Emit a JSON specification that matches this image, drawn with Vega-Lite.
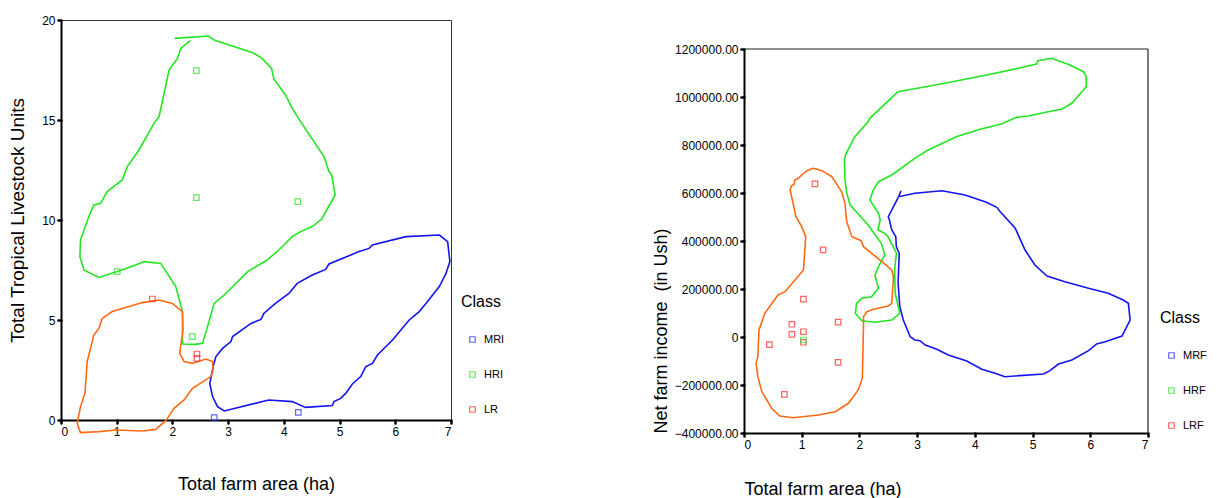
{
  "$schema": "https://vega.github.io/schema/vega-lite/v6.json",
  "background": "white",
  "padding": {"left": 8, "top": 13, "right": 0, "bottom": 0},
  "spacing": 146,
  "config": {
    "font": "Liberation Sans",
    "view": {"stroke": "#333333", "strokeWidth": 1},
    "axis": {
      "grid": false,
      "domainColor": "#000000",
      "domainWidth": 2,
      "tickColor": "#000000",
      "tickSize": 3,
      "tickWidth": 2.5,
      "tickCap": "round",
      "labelFont": "Liberation Sans",
      "labelFontSize": 12,
      "labelColor": "#000000",
      "labelPadding": 3,
      "titleFont": "Liberation Sans",
      "titleFontWeight": "normal",
      "titleColor": "#000000",
      "titleFontSize": 18
    },
    "legend": {
      "titleFont": "Liberation Sans",
      "titleFontWeight": "normal",
      "titleFontSize": 16,
      "titleColor": "#000000",
      "labelFont": "Liberation Sans",
      "labelFontSize": 11,
      "labelColor": "#000000",
      "symbolType": "square",
      "symbolSize": 30,
      "symbolStrokeWidth": 1.2,
      "symbolOffset": 6,
      "rowPadding": 23,
      "titlePadding": 24,
      "labelOffset": 6
    }
  },
  "datasets": {
    "leftLines": [
      {"g": "HRI", "i": 1, "x": 2.04, "y": 19.08},
      {"g": "HRI", "i": 2, "x": 2.64, "y": 19.2},
      {"g": "HRI", "i": 3, "x": 2.77, "y": 18.97},
      {"g": "HRI", "i": 4, "x": 3.43, "y": 18.38},
      {"g": "HRI", "i": 5, "x": 3.61, "y": 18.08},
      {"g": "HRI", "i": 6, "x": 3.78, "y": 17.58},
      {"g": "HRI", "i": 7, "x": 3.82, "y": 17.05},
      {"g": "HRI", "i": 8, "x": 4.03, "y": 16.25},
      {"g": "HRI", "i": 9, "x": 4.15, "y": 15.58},
      {"g": "HRI", "i": 10, "x": 4.3, "y": 14.92},
      {"g": "HRI", "i": 11, "x": 4.72, "y": 13.17},
      {"g": "HRI", "i": 12, "x": 4.81, "y": 12.42},
      {"g": "HRI", "i": 13, "x": 4.86, "y": 12.25},
      {"g": "HRI", "i": 14, "x": 4.92, "y": 11.25},
      {"g": "HRI", "i": 15, "x": 4.68, "y": 10.05},
      {"g": "HRI", "i": 16, "x": 4.51, "y": 9.67},
      {"g": "HRI", "i": 17, "x": 4.3, "y": 9.42},
      {"g": "HRI", "i": 18, "x": 4.15, "y": 9.17},
      {"g": "HRI", "i": 19, "x": 3.91, "y": 8.5},
      {"g": "HRI", "i": 20, "x": 3.7, "y": 8.0},
      {"g": "HRI", "i": 21, "x": 3.35, "y": 7.42},
      {"g": "HRI", "i": 22, "x": 2.93, "y": 6.25},
      {"g": "HRI", "i": 23, "x": 2.75, "y": 5.83},
      {"g": "HRI", "i": 24, "x": 2.63, "y": 4.67},
      {"g": "HRI", "i": 25, "x": 2.54, "y": 3.83},
      {"g": "HRI", "i": 26, "x": 2.42, "y": 3.78},
      {"g": "HRI", "i": 27, "x": 2.18, "y": 3.8},
      {"g": "HRI", "i": 28, "x": 2.18, "y": 5.42},
      {"g": "HRI", "i": 29, "x": 2.06, "y": 6.67},
      {"g": "HRI", "i": 30, "x": 1.79, "y": 7.83},
      {"g": "HRI", "i": 31, "x": 1.49, "y": 7.92},
      {"g": "HRI", "i": 32, "x": 1.34, "y": 7.75},
      {"g": "HRI", "i": 33, "x": 1.01, "y": 7.42},
      {"g": "HRI", "i": 34, "x": 0.68, "y": 7.13},
      {"g": "HRI", "i": 35, "x": 0.41, "y": 7.5},
      {"g": "HRI", "i": 36, "x": 0.34, "y": 8.17},
      {"g": "HRI", "i": 37, "x": 0.35, "y": 9.0},
      {"g": "HRI", "i": 38, "x": 0.5, "y": 10.17},
      {"g": "HRI", "i": 39, "x": 0.59, "y": 10.75},
      {"g": "HRI", "i": 40, "x": 0.71, "y": 10.83},
      {"g": "HRI", "i": 41, "x": 0.83, "y": 11.42},
      {"g": "HRI", "i": 42, "x": 1.1, "y": 12.0},
      {"g": "HRI", "i": 43, "x": 1.19, "y": 12.67},
      {"g": "HRI", "i": 44, "x": 1.4, "y": 13.5},
      {"g": "HRI", "i": 45, "x": 1.67, "y": 14.83},
      {"g": "HRI", "i": 46, "x": 1.76, "y": 15.17},
      {"g": "HRI", "i": 47, "x": 1.94, "y": 17.5},
      {"g": "HRI", "i": 48, "x": 2.09, "y": 18.08},
      {"g": "HRI", "i": 49, "x": 2.15, "y": 18.58},
      {"g": "HRI", "i": 50, "x": 2.32, "y": 18.97},
      {"g": "MRI", "i": 1, "x": 2.73, "y": 2.67},
      {"g": "MRI", "i": 2, "x": 2.78, "y": 3.17},
      {"g": "MRI", "i": 3, "x": 2.9, "y": 3.58},
      {"g": "MRI", "i": 4, "x": 3.05, "y": 3.92},
      {"g": "MRI", "i": 5, "x": 3.08, "y": 4.17},
      {"g": "MRI", "i": 6, "x": 3.41, "y": 4.83},
      {"g": "MRI", "i": 7, "x": 3.59, "y": 5.03},
      {"g": "MRI", "i": 8, "x": 3.64, "y": 5.33},
      {"g": "MRI", "i": 9, "x": 3.85, "y": 5.83},
      {"g": "MRI", "i": 10, "x": 4.09, "y": 6.33},
      {"g": "MRI", "i": 11, "x": 4.24, "y": 6.83},
      {"g": "MRI", "i": 12, "x": 4.51, "y": 7.25},
      {"g": "MRI", "i": 13, "x": 4.75, "y": 7.53},
      {"g": "MRI", "i": 14, "x": 4.81, "y": 7.8},
      {"g": "MRI", "i": 15, "x": 5.35, "y": 8.42},
      {"g": "MRI", "i": 16, "x": 5.53, "y": 8.58},
      {"g": "MRI", "i": 17, "x": 5.59, "y": 8.75},
      {"g": "MRI", "i": 18, "x": 6.19, "y": 9.17},
      {"g": "MRI", "i": 19, "x": 6.79, "y": 9.25},
      {"g": "MRI", "i": 20, "x": 6.94, "y": 8.92},
      {"g": "MRI", "i": 21, "x": 6.98, "y": 7.92},
      {"g": "MRI", "i": 22, "x": 6.91, "y": 7.33},
      {"g": "MRI", "i": 23, "x": 6.79, "y": 6.67},
      {"g": "MRI", "i": 24, "x": 6.55, "y": 5.83},
      {"g": "MRI", "i": 25, "x": 6.43, "y": 5.42},
      {"g": "MRI", "i": 26, "x": 6.25, "y": 5.0},
      {"g": "MRI", "i": 27, "x": 5.95, "y": 4.0},
      {"g": "MRI", "i": 28, "x": 5.68, "y": 3.25},
      {"g": "MRI", "i": 29, "x": 5.59, "y": 2.83},
      {"g": "MRI", "i": 30, "x": 5.47, "y": 2.67},
      {"g": "MRI", "i": 31, "x": 5.38, "y": 2.17},
      {"g": "MRI", "i": 32, "x": 5.23, "y": 1.8},
      {"g": "MRI", "i": 33, "x": 5.11, "y": 1.33},
      {"g": "MRI", "i": 34, "x": 5.02, "y": 1.08},
      {"g": "MRI", "i": 35, "x": 4.9, "y": 0.92},
      {"g": "MRI", "i": 36, "x": 4.87, "y": 0.72},
      {"g": "MRI", "i": 37, "x": 4.39, "y": 0.63},
      {"g": "MRI", "i": 38, "x": 4.15, "y": 0.92},
      {"g": "MRI", "i": 39, "x": 3.73, "y": 1.0},
      {"g": "MRI", "i": 40, "x": 2.93, "y": 0.45},
      {"g": "MRI", "i": 41, "x": 2.81, "y": 0.67},
      {"g": "MRI", "i": 42, "x": 2.72, "y": 1.17},
      {"g": "MRI", "i": 43, "x": 2.67, "y": 1.83},
      {"g": "MRI", "i": 44, "x": 2.72, "y": 2.5},
      {"g": "MRI", "i": 45, "x": 2.73, "y": 2.67},
      {"g": "LR", "i": 1, "x": 1.76, "y": 6.0},
      {"g": "LR", "i": 2, "x": 2.0, "y": 5.83},
      {"g": "LR", "i": 3, "x": 2.18, "y": 5.42},
      {"g": "LR", "i": 4, "x": 2.19, "y": 4.5},
      {"g": "LR", "i": 5, "x": 2.13, "y": 3.33},
      {"g": "LR", "i": 6, "x": 2.21, "y": 2.92},
      {"g": "LR", "i": 7, "x": 2.36, "y": 2.83},
      {"g": "LR", "i": 8, "x": 2.6, "y": 3.05},
      {"g": "LR", "i": 9, "x": 2.72, "y": 2.92},
      {"g": "LR", "i": 10, "x": 2.73, "y": 2.5},
      {"g": "LR", "i": 11, "x": 2.69, "y": 2.17},
      {"g": "LR", "i": 12, "x": 2.36, "y": 1.58},
      {"g": "LR", "i": 13, "x": 2.21, "y": 1.0},
      {"g": "LR", "i": 14, "x": 2.15, "y": 0.87},
      {"g": "LR", "i": 15, "x": 2.03, "y": 0.58},
      {"g": "LR", "i": 16, "x": 1.91, "y": 0.08},
      {"g": "LR", "i": 17, "x": 1.88, "y": -0.03},
      {"g": "LR", "i": 18, "x": 1.7, "y": -0.47},
      {"g": "LR", "i": 19, "x": 1.46, "y": -0.55},
      {"g": "LR", "i": 20, "x": 0.98, "y": -0.5},
      {"g": "LR", "i": 21, "x": 0.68, "y": -0.58},
      {"g": "LR", "i": 22, "x": 0.35, "y": -0.63},
      {"g": "LR", "i": 23, "x": 0.29, "y": -0.17},
      {"g": "LR", "i": 24, "x": 0.35, "y": 0.67},
      {"g": "LR", "i": 25, "x": 0.43, "y": 1.33},
      {"g": "LR", "i": 26, "x": 0.47, "y": 2.92},
      {"g": "LR", "i": 27, "x": 0.59, "y": 4.25},
      {"g": "LR", "i": 28, "x": 0.68, "y": 4.58},
      {"g": "LR", "i": 29, "x": 0.74, "y": 5.08},
      {"g": "LR", "i": 30, "x": 0.92, "y": 5.42},
      {"g": "LR", "i": 31, "x": 1.46, "y": 5.87},
      {"g": "LR", "i": 32, "x": 1.76, "y": 6.0}
    ],
    "leftPts": [
      {"c": "HRI", "x": 2.43, "y": 17.47},
      {"c": "HRI", "x": 2.43, "y": 11.12},
      {"c": "HRI", "x": 4.25, "y": 10.92},
      {"c": "HRI", "x": 1.01, "y": 7.42},
      {"c": "HRI", "x": 2.36, "y": 4.17},
      {"c": "LR", "x": 1.64, "y": 6.05},
      {"c": "LR", "x": 2.44, "y": 3.3},
      {"c": "LR", "x": 2.44, "y": 3.08},
      {"c": "MRI", "x": 2.75, "y": 0.12},
      {"c": "MRI", "x": 4.26, "y": 0.38}
    ],
    "rightLines": [
      {"g": "MRF", "i": 1, "x": 2.72, "v": 609600},
      {"g": "MRF", "i": 2, "x": 2.68, "v": 584600},
      {"g": "MRF", "i": 3, "x": 2.96, "v": 598750},
      {"g": "MRF", "i": 4, "x": 3.43, "v": 609600},
      {"g": "MRF", "i": 5, "x": 3.83, "v": 591700},
      {"g": "MRF", "i": 6, "x": 4.2, "v": 561250},
      {"g": "MRF", "i": 7, "x": 4.38, "v": 540400},
      {"g": "MRF", "i": 8, "x": 4.44, "v": 522100},
      {"g": "MRF", "i": 9, "x": 4.7, "v": 452900},
      {"g": "MRF", "i": 10, "x": 4.87, "v": 362500},
      {"g": "MRF", "i": 11, "x": 5.04, "v": 300000},
      {"g": "MRF", "i": 12, "x": 5.25, "v": 254200},
      {"g": "MRF", "i": 13, "x": 5.56, "v": 230400},
      {"g": "MRF", "i": 14, "x": 5.97, "v": 202900},
      {"g": "MRF", "i": 15, "x": 6.31, "v": 182100},
      {"g": "MRF", "i": 16, "x": 6.57, "v": 154200},
      {"g": "MRF", "i": 17, "x": 6.66, "v": 140400},
      {"g": "MRF", "i": 18, "x": 6.69, "v": 70800},
      {"g": "MRF", "i": 19, "x": 6.55, "v": 4200},
      {"g": "MRF", "i": 20, "x": 6.26, "v": -19600},
      {"g": "MRF", "i": 21, "x": 6.11, "v": -29200},
      {"g": "MRF", "i": 22, "x": 5.97, "v": -57100},
      {"g": "MRF", "i": 23, "x": 5.68, "v": -95800},
      {"g": "MRF", "i": 24, "x": 5.45, "v": -112500},
      {"g": "MRF", "i": 25, "x": 5.3, "v": -140400},
      {"g": "MRF", "i": 26, "x": 5.19, "v": -154200},
      {"g": "MRF", "i": 27, "x": 4.52, "v": -165400},
      {"g": "MRF", "i": 28, "x": 4.35, "v": -151250},
      {"g": "MRF", "i": 29, "x": 4.12, "v": -134600},
      {"g": "MRF", "i": 30, "x": 3.86, "v": -100000},
      {"g": "MRF", "i": 31, "x": 3.54, "v": -75000},
      {"g": "MRF", "i": 32, "x": 3.34, "v": -51250},
      {"g": "MRF", "i": 33, "x": 3.14, "v": -33300},
      {"g": "MRF", "i": 34, "x": 3.05, "v": -15400},
      {"g": "MRF", "i": 35, "x": 2.96, "v": -12500},
      {"g": "MRF", "i": 36, "x": 2.88, "v": 1250},
      {"g": "MRF", "i": 37, "x": 2.76, "v": 70800},
      {"g": "MRF", "i": 38, "x": 2.7, "v": 126250},
      {"g": "MRF", "i": 39, "x": 2.67, "v": 223750},
      {"g": "MRF", "i": 40, "x": 2.69, "v": 348750},
      {"g": "MRF", "i": 41, "x": 2.64, "v": 376250},
      {"g": "MRF", "i": 42, "x": 2.63, "v": 418000},
      {"g": "MRF", "i": 43, "x": 2.56, "v": 445800},
      {"g": "MRF", "i": 44, "x": 2.52, "v": 487500},
      {"g": "MRF", "i": 45, "x": 2.5, "v": 501250},
      {"g": "MRF", "i": 46, "x": 2.59, "v": 542900},
      {"g": "MRF", "i": 47, "x": 2.68, "v": 584600},
      {"g": "LRF", "i": 1, "x": 1.2, "v": 702900},
      {"g": "LRF", "i": 2, "x": 1.35, "v": 693000},
      {"g": "LRF", "i": 3, "x": 1.52, "v": 668000},
      {"g": "LRF", "i": 4, "x": 1.69, "v": 605500},
      {"g": "LRF", "i": 5, "x": 1.75, "v": 557000},
      {"g": "LRF", "i": 6, "x": 1.78, "v": 480400},
      {"g": "LRF", "i": 7, "x": 1.87, "v": 418000},
      {"g": "LRF", "i": 8, "x": 2.03, "v": 401300},
      {"g": "LRF", "i": 9, "x": 2.07, "v": 376300},
      {"g": "LRF", "i": 10, "x": 2.39, "v": 313750},
      {"g": "LRF", "i": 11, "x": 2.56, "v": 279200},
      {"g": "LRF", "i": 12, "x": 2.59, "v": 251300},
      {"g": "LRF", "i": 13, "x": 2.56, "v": 140400},
      {"g": "LRF", "i": 14, "x": 2.5, "v": 129200},
      {"g": "LRF", "i": 15, "x": 2.24, "v": 115400},
      {"g": "LRF", "i": 16, "x": 2.13, "v": 105400},
      {"g": "LRF", "i": 17, "x": 2.07, "v": 84600},
      {"g": "LRF", "i": 18, "x": 2.07, "v": 42900},
      {"g": "LRF", "i": 19, "x": 2.05, "v": -172100},
      {"g": "LRF", "i": 20, "x": 1.98, "v": -220800},
      {"g": "LRF", "i": 21, "x": 1.81, "v": -276250},
      {"g": "LRF", "i": 22, "x": 1.58, "v": -311250},
      {"g": "LRF", "i": 23, "x": 1.29, "v": -325000},
      {"g": "LRF", "i": 24, "x": 0.85, "v": -336250},
      {"g": "LRF", "i": 25, "x": 0.62, "v": -329200},
      {"g": "LRF", "i": 26, "x": 0.48, "v": -297100},
      {"g": "LRF", "i": 27, "x": 0.31, "v": -227900},
      {"g": "LRF", "i": 28, "x": 0.24, "v": -165400},
      {"g": "LRF", "i": 29, "x": 0.21, "v": -109600},
      {"g": "LRF", "i": 30, "x": 0.24, "v": -82100},
      {"g": "LRF", "i": 31, "x": 0.26, "v": 29200},
      {"g": "LRF", "i": 32, "x": 0.36, "v": 98750},
      {"g": "LRF", "i": 33, "x": 0.59, "v": 175000},
      {"g": "LRF", "i": 34, "x": 0.71, "v": 188750},
      {"g": "LRF", "i": 35, "x": 0.91, "v": 244600},
      {"g": "LRF", "i": 36, "x": 1.03, "v": 279200},
      {"g": "LRF", "i": 37, "x": 1.07, "v": 418000},
      {"g": "LRF", "i": 38, "x": 1.0, "v": 459600},
      {"g": "LRF", "i": 39, "x": 0.9, "v": 501250},
      {"g": "LRF", "i": 40, "x": 0.8, "v": 612500},
      {"g": "LRF", "i": 41, "x": 0.82, "v": 629200},
      {"g": "LRF", "i": 42, "x": 0.87, "v": 636250},
      {"g": "LRF", "i": 43, "x": 0.88, "v": 654200},
      {"g": "LRF", "i": 44, "x": 0.94, "v": 661250},
      {"g": "LRF", "i": 45, "x": 1.0, "v": 675000},
      {"g": "LRF", "i": 46, "x": 1.09, "v": 693000},
      {"g": "LRF", "i": 47, "x": 1.2, "v": 702900},
      {"g": "HRF", "i": 1, "x": 2.67, "v": 1022100},
      {"g": "HRF", "i": 2, "x": 2.18, "v": 911250},
      {"g": "HRF", "i": 3, "x": 2.15, "v": 897100},
      {"g": "HRF", "i": 4, "x": 1.92, "v": 834600},
      {"g": "HRF", "i": 5, "x": 1.76, "v": 760000},
      {"g": "HRF", "i": 6, "x": 1.74, "v": 737500},
      {"g": "HRF", "i": 7, "x": 1.75, "v": 654000},
      {"g": "HRF", "i": 8, "x": 1.78, "v": 600000},
      {"g": "HRF", "i": 9, "x": 1.84, "v": 550000},
      {"g": "HRF", "i": 10, "x": 2.15, "v": 466700},
      {"g": "HRF", "i": 11, "x": 2.38, "v": 390400},
      {"g": "HRF", "i": 12, "x": 2.44, "v": 341700},
      {"g": "HRF", "i": 13, "x": 2.33, "v": 292900},
      {"g": "HRF", "i": 14, "x": 2.27, "v": 258300},
      {"g": "HRF", "i": 15, "x": 2.33, "v": 202900},
      {"g": "HRF", "i": 16, "x": 2.21, "v": 167900},
      {"g": "HRF", "i": 17, "x": 2.04, "v": 161250},
      {"g": "HRF", "i": 18, "x": 1.95, "v": 140400},
      {"g": "HRF", "i": 19, "x": 1.93, "v": 98750},
      {"g": "HRF", "i": 20, "x": 2.04, "v": 67900},
      {"g": "HRF", "i": 21, "x": 2.27, "v": 61250},
      {"g": "HRF", "i": 22, "x": 2.56, "v": 70800},
      {"g": "HRF", "i": 23, "x": 2.7, "v": 98750},
      {"g": "HRF", "i": 24, "x": 2.62, "v": 182100},
      {"g": "HRF", "i": 25, "x": 2.61, "v": 279200},
      {"g": "HRF", "i": 26, "x": 2.64, "v": 350000},
      {"g": "HRF", "i": 27, "x": 2.5, "v": 415400},
      {"g": "HRF", "i": 28, "x": 2.44, "v": 432100},
      {"g": "HRF", "i": 29, "x": 2.32, "v": 445800},
      {"g": "HRF", "i": 30, "x": 2.36, "v": 487500},
      {"g": "HRF", "i": 31, "x": 2.33, "v": 515400},
      {"g": "HRF", "i": 32, "x": 2.18, "v": 570800},
      {"g": "HRF", "i": 33, "x": 2.24, "v": 612500},
      {"g": "HRF", "i": 34, "x": 2.33, "v": 647100},
      {"g": "HRF", "i": 35, "x": 2.56, "v": 675000},
      {"g": "HRF", "i": 36, "x": 2.96, "v": 744600},
      {"g": "HRF", "i": 37, "x": 3.19, "v": 779200},
      {"g": "HRF", "i": 38, "x": 3.68, "v": 834600},
      {"g": "HRF", "i": 39, "x": 3.83, "v": 845800},
      {"g": "HRF", "i": 40, "x": 4.09, "v": 865400},
      {"g": "HRF", "i": 41, "x": 4.46, "v": 887500},
      {"g": "HRF", "i": 42, "x": 4.72, "v": 915400},
      {"g": "HRF", "i": 43, "x": 4.93, "v": 920800},
      {"g": "HRF", "i": 44, "x": 5.27, "v": 938750},
      {"g": "HRF", "i": 45, "x": 5.51, "v": 950000},
      {"g": "HRF", "i": 46, "x": 5.68, "v": 973750},
      {"g": "HRF", "i": 47, "x": 5.93, "v": 1042900},
      {"g": "HRF", "i": 48, "x": 5.93, "v": 1084600},
      {"g": "HRF", "i": 49, "x": 5.88, "v": 1105400},
      {"g": "HRF", "i": 50, "x": 5.65, "v": 1133300},
      {"g": "HRF", "i": 51, "x": 5.33, "v": 1161250},
      {"g": "HRF", "i": 52, "x": 5.09, "v": 1151250},
      {"g": "HRF", "i": 53, "x": 5.07, "v": 1137500},
      {"g": "HRF", "i": 54, "x": 4.75, "v": 1119600},
      {"g": "HRF", "i": 55, "x": 4.29, "v": 1095800},
      {"g": "HRF", "i": 56, "x": 3.83, "v": 1073750},
      {"g": "HRF", "i": 57, "x": 3.48, "v": 1057100},
      {"g": "HRF", "i": 58, "x": 3.31, "v": 1050000},
      {"g": "HRF", "i": 59, "x": 2.67, "v": 1022100}
    ],
    "rightPts": [
      {"c": "LRF", "x": 1.23, "v": 638000},
      {"c": "LRF", "x": 1.37, "v": 363000},
      {"c": "LRF", "x": 1.03, "v": 158000},
      {"c": "LRF", "x": 0.83, "v": 53000},
      {"c": "LRF", "x": 0.83, "v": 11000},
      {"c": "LRF", "x": 1.03, "v": 22000},
      {"c": "LRF", "x": 1.03, "v": -22000},
      {"c": "LRF", "x": 1.63, "v": 62000},
      {"c": "LRF", "x": 0.44, "v": -32000},
      {"c": "LRF", "x": 1.63, "v": -106000},
      {"c": "LRF", "x": 0.7, "v": -239000},
      {"c": "HRF", "x": 1.03, "v": -12500}
    ],
    "rightFrame": [
      {"x": 0, "x2": 7, "v": 1200000, "v2": 1200000},
      {"x": 7, "x2": 7, "v": -400000, "v2": 1200000}
    ]
  },
  "hconcat": [
    {
      "width": 390,
      "height": 400,
      "encoding": {
        "x": {"field": "x", "type": "quantitative", "scale": {"domain": [0, 7], "nice": false, "zero": false},
          "axis": {"values": [0, 1, 2, 3, 4, 5, 6, 7], "format": "d", "title": "Total farm area (ha)", "titlePadding": 38}},
        "y": {"field": "y", "type": "quantitative", "scale": {"domain": [0, 20], "nice": false, "zero": false},
          "axis": {"values": [0, 5, 10, 15, 20], "format": "d", "title": "Total Tropical Livestock Units", "titleFontSize": 19, "titlePadding": 14}}
      },
      "layer": [
        {
          "data": {"name": "leftLines"},
          "transform": [{"filter": "datum.g == 'MRI'"}],
          "mark": {"type": "line", "strokeWidth": 1.6, "clip": false, "color": "#1414ee"},
          "encoding": {"order": {"field": "i", "type": "quantitative"}}
        },
        {
          "data": {"name": "leftLines"},
          "transform": [{"filter": "datum.g == 'HRI'"}],
          "mark": {"type": "line", "strokeWidth": 1.6, "clip": false, "color": "#22e622"},
          "encoding": {"order": {"field": "i", "type": "quantitative"}}
        },
        {
          "data": {"name": "leftLines"},
          "transform": [{"filter": "datum.g == 'LR'"}],
          "mark": {"type": "line", "strokeWidth": 1.6, "clip": false, "color": "#ff6a14"},
          "encoding": {"order": {"field": "i", "type": "quantitative"}}
        },
        {
          "data": {"name": "leftPts"},
          "mark": {"type": "point", "shape": "square", "filled": false, "size": 30, "strokeWidth": 1.2, "clip": false},
          "encoding": {
            "color": {"field": "c", "type": "nominal", "scale": {"domain": ["MRI", "HRI", "LR"], "range": ["#2020ff", "#22dd22", "#ff2020"]},
              "legend": {"title": "Class", "orient": "none", "legendX": 400, "legendY": 274}}
          }
        }
      ]
    },
    {
      "width": 404,
      "height": 413,
      "view": {"stroke": null},
      "encoding": {
        "x": {"field": "x", "type": "quantitative", "scale": {"domain": [0, 7], "nice": false, "zero": false},
          "axis": {"values": [0, 1, 2, 3, 4, 5, 6, 7], "format": "d", "title": "Total farm area (ha)", "titleAnchor": "start", "titlePadding": 30}},
        "y": {"field": "v", "type": "quantitative", "scale": {"domain": [-400000, 1200000], "range": [413, 29], "nice": false, "zero": false},
          "axis": {"values": [-400000, -200000, 0, 200000, 400000, 600000, 800000, 1000000, 1200000],
            "labelExpr": "datum.value == 0 ? '0' : format(datum.value, '.2f')",
            "title": "Net farm income \u00a0(in Ush)", "titleAnchor": "start", "titlePadding": 4}}
      },
      "layer": [
        {
          "data": {"name": "rightFrame"},
          "mark": {"type": "rule", "color": "#222222", "strokeWidth": 1.2},
          "encoding": {
            "x2": {"field": "x2"},
            "y2": {"field": "v2"}
          }
        },
        {
          "data": {"name": "rightLines"},
          "transform": [{"filter": "datum.g == 'MRF'"}],
          "mark": {"type": "line", "strokeWidth": 1.6, "clip": false, "color": "#1414ee"},
          "encoding": {"order": {"field": "i", "type": "quantitative"}}
        },
        {
          "data": {"name": "rightLines"},
          "transform": [{"filter": "datum.g == 'HRF'"}],
          "mark": {"type": "line", "strokeWidth": 1.6, "clip": false, "color": "#22e622"},
          "encoding": {"order": {"field": "i", "type": "quantitative"}}
        },
        {
          "data": {"name": "rightLines"},
          "transform": [{"filter": "datum.g == 'LRF'"}],
          "mark": {"type": "line", "strokeWidth": 1.6, "clip": false, "color": "#ff6a14"},
          "encoding": {"order": {"field": "i", "type": "quantitative"}}
        },
        {
          "data": {"name": "rightPts"},
          "mark": {"type": "point", "shape": "square", "filled": false, "size": 30, "strokeWidth": 1.2, "clip": false},
          "encoding": {
            "color": {"field": "c", "type": "nominal", "scale": {"domain": ["MRF", "HRF", "LRF"], "range": ["#2020ff", "#22dd22", "#ff2020"]},
              "legend": {"title": "Class", "orient": "none", "legendX": 416, "legendY": 290}}
          }
        }
      ]
    }
  ],
  "resolve": {
    "scale": {"x": "independent", "y": "independent", "color": "independent"},
    "legend": {"color": "independent"}
  }
}
